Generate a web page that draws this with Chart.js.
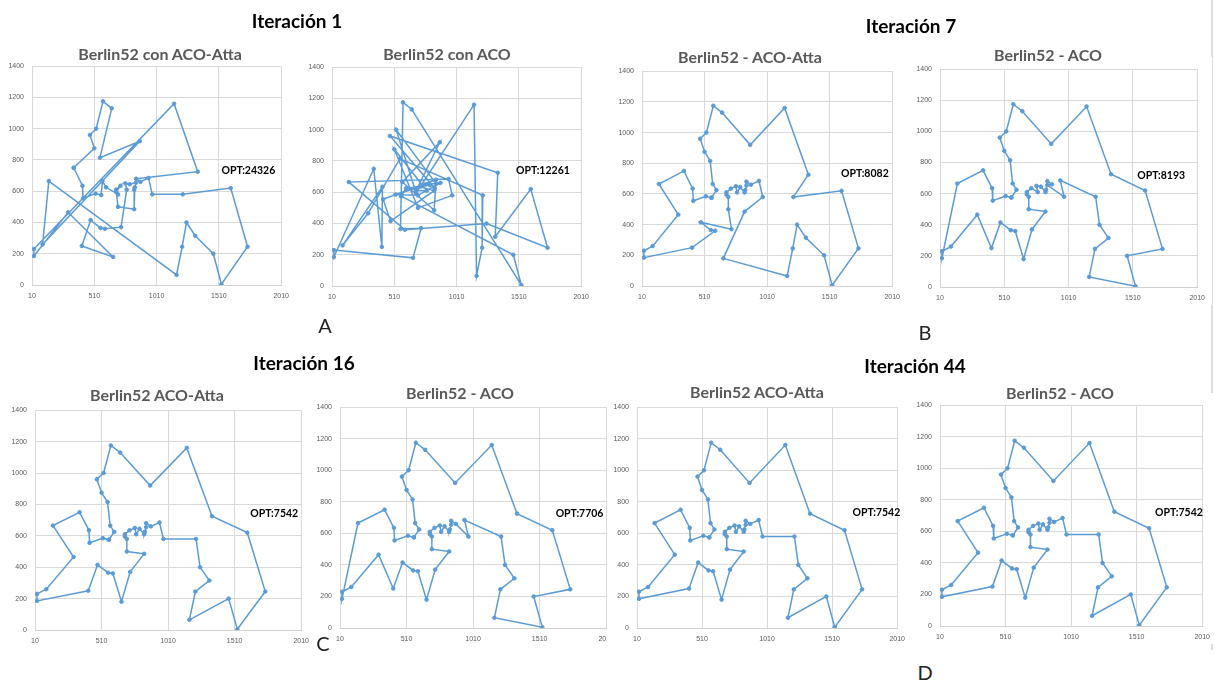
<!DOCTYPE html>
<html>
<head>
<meta charset="utf-8">
<script src="https://cdn.jsdelivr.net/npm/chart.js@4.4.1/dist/chart.umd.min.js"></script>
<style>
  body { margin: 0; background: #fff; width: 1215px; height: 686px; overflow: hidden; position: relative; font-family: Lato, "Open Sans", sans-serif; }
  canvas { position: absolute; background: #fff; }
  .txt { position: absolute; transform: translate(-50%, -50%); white-space: nowrap; }
  .iter { font-weight: bold; font-size: 19px; color: #000; }
  .ttl { font-weight: bold; font-size: 16px; color: #595959; }
  .let { font-size: 20px; color: #222; }
  .bar { position: absolute; left: 1211px; top: 0; width: 2px; height: 650px; background: #ddd; }
</style>
</head>
<body>
<div class="bar"></div>
<script>
// Berlin52 city coordinates
const cityX = [565, 25, 345, 945, 845, 880, 25, 525, 580, 650, 1605, 1220, 1465, 1530, 845, 725, 145, 415, 510, 560, 300, 520, 480, 835, 975, 1215, 1320, 1250, 660, 410, 420, 575, 1150, 700, 685, 685, 770, 795, 720, 760, 475, 95, 875, 700, 555, 830, 1170, 830, 605, 595, 1340, 1740];
const cityY = [575, 185, 750, 685, 655, 660, 230, 1000, 1175, 1130, 620, 580, 200, 5, 680, 370, 665, 635, 875, 365, 465, 585, 415, 625, 580, 245, 315, 400, 180, 250, 555, 665, 1160, 580, 595, 610, 610, 645, 635, 650, 960, 260, 920, 500, 815, 485, 65, 610, 625, 360, 725, 245];

const xTicks = [10, 510, 1010, 1510, 2010];
const yTicks = [0, 200, 400, 600, 800, 1000, 1200, 1400];

// tours (city numbers, 1-based, closed)
const tourIt1Atta = [3, 19, 41, 8, 9, 10, 45, 43, 42, 17, 47, 26, 28, 27, 13, 14, 52, 11, 12, 25, 4, 6, 15, 51, 33, 7, 2, 21, 29, 30, 23, 20, 50, 16, 37, 40, 38, 5, 24, 48, 46, 44, 36, 39, 35, 34, 49, 32, 1, 22, 31, 18, 3];
const tourIt1Aco = [1, 13, 14, 10, 9, 20, 16, 29, 7, 2, 3, 30, 18, 42, 21, 45, 12, 26, 47, 33, 35, 8, 5, 24, 41, 51, 27, 11, 52, 28, 50, 17, 4, 25, 44, 19, 37, 36, 43, 32, 46, 15, 31, 23, 48, 39, 22, 34, 6, 40, 38, 49, 1];
const tourIt7Atta = [1, 49, 32, 45, 19, 41, 8, 9, 10, 43, 33, 51, 12, 11, 52, 14, 13, 27, 28, 26, 47, 29, 46, 25, 4, 6, 15, 5, 24, 48, 38, 37, 40, 39, 36, 35, 34, 44, 16, 23, 20, 50, 30, 2, 7, 42, 21, 17, 3, 18, 31, 22, 1];
const tourIt7Aco = [1, 49, 32, 45, 19, 41, 8, 9, 10, 43, 33, 51, 11, 52, 13, 14, 47, 26, 27, 28, 12, 4, 25, 5, 6, 15, 24, 48, 38, 40, 37, 39, 36, 35, 34, 44, 46, 16, 29, 50, 20, 23, 30, 21, 42, 7, 2, 17, 3, 18, 31, 22, 1];
const tourIt16Aco = [1, 49, 32, 45, 19, 41, 8, 9, 10, 43, 33, 51, 11, 52, 13, 14, 47, 26, 27, 28, 12, 4, 25, 6, 15, 5, 24, 48, 38, 37, 40, 39, 36, 35, 34, 44, 46, 16, 29, 50, 20, 23, 30, 21, 42, 7, 2, 17, 3, 18, 31, 22, 1];
const tourOpt = [1, 49, 32, 45, 19, 41, 8, 9, 10, 43, 33, 51, 11, 52, 14, 13, 47, 26, 27, 28, 12, 25, 4, 6, 15, 5, 24, 48, 38, 37, 40, 39, 36, 35, 34, 44, 46, 16, 29, 50, 20, 23, 30, 2, 7, 42, 21, 17, 3, 18, 31, 22, 1];

const panels = [
  { tour: tourIt1Atta, opt: "OPT:24326", title: "Berlin52 con ACO-Atta", area: [32, 62, 282, 285], optPos: [0.76, 0.475], tpos: [160, 53] },
  { tour: tourIt1Aco, opt: "OPT:12261", title: "Berlin52 con ACO", area: [332, 63, 582, 286], optPos: [0.738, 0.472], tpos: [447, 53] },
  { tour: tourIt7Atta, opt: "OPT:8082", title: "Berlin52 - ACO-Atta", area: [642, 67, 893, 286], optPos: [0.795, 0.479], tpos: [750, 56] },
  { tour: tourIt7Aco, opt: "OPT:8193", title: "Berlin52 - ACO", area: [940, 65, 1198, 287], optPos: [0.767, 0.49], tpos: [1048, 54] },
  { tour: tourOpt, opt: "OPT:7542", title: "Berlin52 ACO-Atta", area: [35, 406, 302, 630], optPos: [0.809, 0.47], tpos: [157, 394] },
  { tour: tourIt16Aco, opt: "OPT:7706", title: "Berlin52 - ACO", area: [340, 403, 607, 628], optPos: [0.81, 0.48], tpos: [460, 392] },
  { tour: tourOpt, opt: "OPT:7542", title: "Berlin52 ACO-Atta", area: [637, 403, 898, 628], optPos: [0.828, 0.476], tpos: [757, 391] },
  { tour: tourOpt, opt: "OPT:7542", title: "Berlin52 - ACO", area: [940, 401, 1203, 626], optPos: [0.82, 0.485], tpos: [1060, 392] },
];

const headings = [
  { text: "Iteración 1", cls: "iter", pos: [297, 20] },
  { text: "Iteración 7", cls: "iter", pos: [911, 25] },
  { text: "Iteración 16", cls: "iter", pos: [304, 362] },
  { text: "Iteración 44", cls: "iter", pos: [915, 365] },
  { text: "A", cls: "let", pos: [325, 325] },
  { text: "B", cls: "let", pos: [925, 332] },
  { text: "C", cls: "let", pos: [323, 643] },
  { text: "D", cls: "let", pos: [925, 672] },
];

function addText(text, cls, pos) {
  const d = document.createElement("div");
  d.className = "txt " + cls;
  d.textContent = text;
  d.style.left = pos[0] + "px";
  d.style.top = pos[1] + "px";
  document.body.appendChild(d);
}

const optLabel = {
  id: "optLabel",
  afterDraw: function (chart, args, opts) {
    const a = chart.chartArea;
    const ctx = chart.ctx;
    ctx.save();
    ctx.font = "bold 10.5px Lato, sans-serif";
    ctx.fillStyle = "#000";
    ctx.textAlign = "left";
    ctx.textBaseline = "middle";
    ctx.fillText(opts.text, a.left + opts.fx * a.width, a.top + opts.fy * a.height);
    ctx.restore();
  },
};

const PAD_L = 30, PAD_T = 8, PAD_R = 14, PAD_B = 18;

panels.forEach(function (p) {
  const [L, T, R, B] = p.area;
  const cv = document.createElement("canvas");
  const w = R - L + PAD_L + PAD_R;
  const h = B - T + PAD_T + PAD_B;
  cv.width = w;
  cv.height = h;
  cv.style.left = (L - PAD_L) + "px";
  cv.style.top = (T - PAD_T) + "px";
  cv.style.width = w + "px";
  cv.style.height = h + "px";
  document.body.appendChild(cv);

  const pts = p.tour.map(function (c) {
    return { x: cityX[c - 1], y: cityY[c - 1] };
  });

  new Chart(cv, {
    type: "scatter",
    data: {
      datasets: [
        {
          data: pts,
          showLine: true,
          borderColor: "#5b9bd5",
          borderWidth: 1.5,
          pointRadius: 1.8,
          pointBackgroundColor: "#5b9bd5",
          pointBorderColor: "#5b9bd5",
          pointBorderWidth: 1,
        },
      ],
    },
    options: {
      responsive: false,
      devicePixelRatio: 1,
      animation: false,
      layout: { padding: { top: PAD_T, right: PAD_R, left: 0, bottom: 0 } },
      plugins: {
        legend: { display: false },
        tooltip: { enabled: false },
        optLabel: { text: p.opt, fx: p.optPos[0], fy: p.optPos[1] },
      },
      scales: {
        x: {
          type: "linear",
          min: 10,
          max: 2010,
          grid: { color: "#d9d9d9", drawTicks: false },
          border: { color: "#d0d0d0" },
          ticks: {
            font: { size: 7, family: "Liberation Sans" },
            color: "#595959",
            padding: 7,
            callback: function (value) { return String(value); },
          },
          afterBuildTicks: function (scale) {
            scale.ticks = xTicks.map(function (v) { return { value: v }; });
          },
          afterFit: function (scale) { scale.height = PAD_B; },
        },
        y: {
          min: 0,
          max: 1400,
          grid: { color: "#d9d9d9", drawTicks: false },
          border: { display: false },
          ticks: {
            font: { size: 7, family: "Liberation Sans" },
            color: "#595959",
            padding: 8,
            callback: function (value) { return String(value); },
          },
          afterBuildTicks: function (scale) {
            scale.ticks = yTicks.map(function (v) { return { value: v }; });
          },
          afterFit: function (scale) { scale.width = PAD_L; },
        },
      },
    },
    plugins: [optLabel],
  });

  addText(p.title, "ttl", p.tpos);
});

headings.forEach(function (hd) {
  addText(hd.text, hd.cls, hd.pos);
});
</script>
</body>
</html>
